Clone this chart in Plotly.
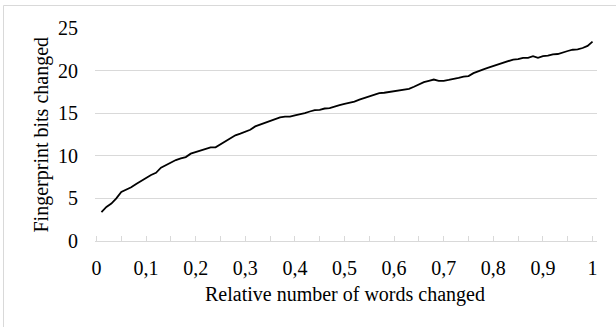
import plotly.graph_objects as go

x_values = [round(0.01 * i, 2) for i in range(1, 101)]
bits_changed = [
    3.4, 4.0, 4.4, 5.0, 5.75, 6.0, 6.3, 6.7, 7.1, 7.4,
    7.75, 8.0, 8.6, 8.9, 9.15, 9.5, 9.7, 9.85, 10.25, 10.45,
    10.65, 10.85, 11.0, 11.0, 11.35, 11.8, 12.05, 12.4, 12.6, 12.8,
    13.05, 13.45, 13.65, 13.85, 14.05, 14.25, 14.5, 14.6, 14.6, 14.75,
    14.85, 15.0, 15.2, 15.35, 15.4, 15.55, 15.6, 15.8, 15.95, 16.1,
    16.25, 16.35, 16.6, 16.8, 16.95, 17.15, 17.35, 17.4, 17.5, 17.6,
    17.65, 17.75, 17.85, 18.1, 18.4, 18.65, 18.8, 18.95, 18.8, 18.8,
    18.9, 19.0, 19.15, 19.3, 19.35, 19.7, 19.95, 20.15, 20.35, 20.55,
    20.75, 20.95, 21.15, 21.3, 21.35, 21.5, 21.5, 21.7, 21.5, 21.7,
    21.75, 21.9, 21.95, 22.15, 22.3, 22.45, 22.5, 22.65, 22.9, 23.4,
]
x_title = "Relative number of words changed"
y_title = "Fingerprint bits changed"

FONT = "Liberation Serif, Times New Roman, serif"
GRID = "#d9d9d9"
FS = 20

W, H = 616, 327
L, R, T, B = 95, 19, 28, 86
pw, ph = W - L - R, H - T - B

def px(xp):
    return (xp - L) / pw

def py(yp):
    return (H - B - yp) / ph

fig = go.Figure()
fig.add_trace(go.Scatter(
    x=x_values, y=bits_changed, mode="lines",
    line=dict(color="black", width=1.8), showlegend=False,
))

fig.update_layout(
    width=W, height=H,
    margin=dict(l=L, r=R, t=T, b=B, autoexpand=False),
    paper_bgcolor="white", plot_bgcolor="white",
    separators=", ",
    font=dict(family=FONT, size=FS, color="black"),
    xaxis=dict(
        range=[-0.003, 1.009], dtick=0.1, tick0=0,
        showgrid=False, zeroline=False,
        showline=True, linecolor=GRID, linewidth=1,
        ticks="inside", ticklen=5, tickcolor=GRID, tickwidth=1,
        minor=dict(dtick=0.05, ticks="inside", ticklen=5, tickcolor=GRID, tickwidth=1, showgrid=False),
        ticklabelstandoff=9,
        tickfont=dict(family=FONT, size=FS, color="black"),
    ),
    yaxis=dict(
        range=[0, 25], dtick=5, tick0=0,
        showgrid=True, gridcolor=GRID, gridwidth=1,
        zeroline=False, showline=False, ticks="",
        ticklabelstandoff=16,
        tickfont=dict(family=FONT, size=FS, color="black"),
    ),
    shapes=[dict(
        type="rect", xref="paper", yref="paper",
        x0=px(3.5), x1=px(620), y0=py(335), y1=py(5.5),
        line=dict(color=GRID, width=1), fillcolor="rgba(0,0,0,0)", layer="above",
    )],
    annotations=[
        dict(text=x_title, xref="paper", yref="paper", x=px(345), y=py(294),
             xanchor="center", yanchor="middle", showarrow=False,
             font=dict(family=FONT, size=FS, color="black")),
        dict(text=y_title, xref="paper", yref="paper", x=px(41), y=0.5,
             xanchor="center", yanchor="middle", showarrow=False, textangle=-90,
             font=dict(family=FONT, size=FS, color="black")),
    ],
)

fig.write_html(
    "out.html",
    config={"displayModeBar": False},
    post_script="document.body.style.margin='0';document.body.style.overflow='hidden';",
)
